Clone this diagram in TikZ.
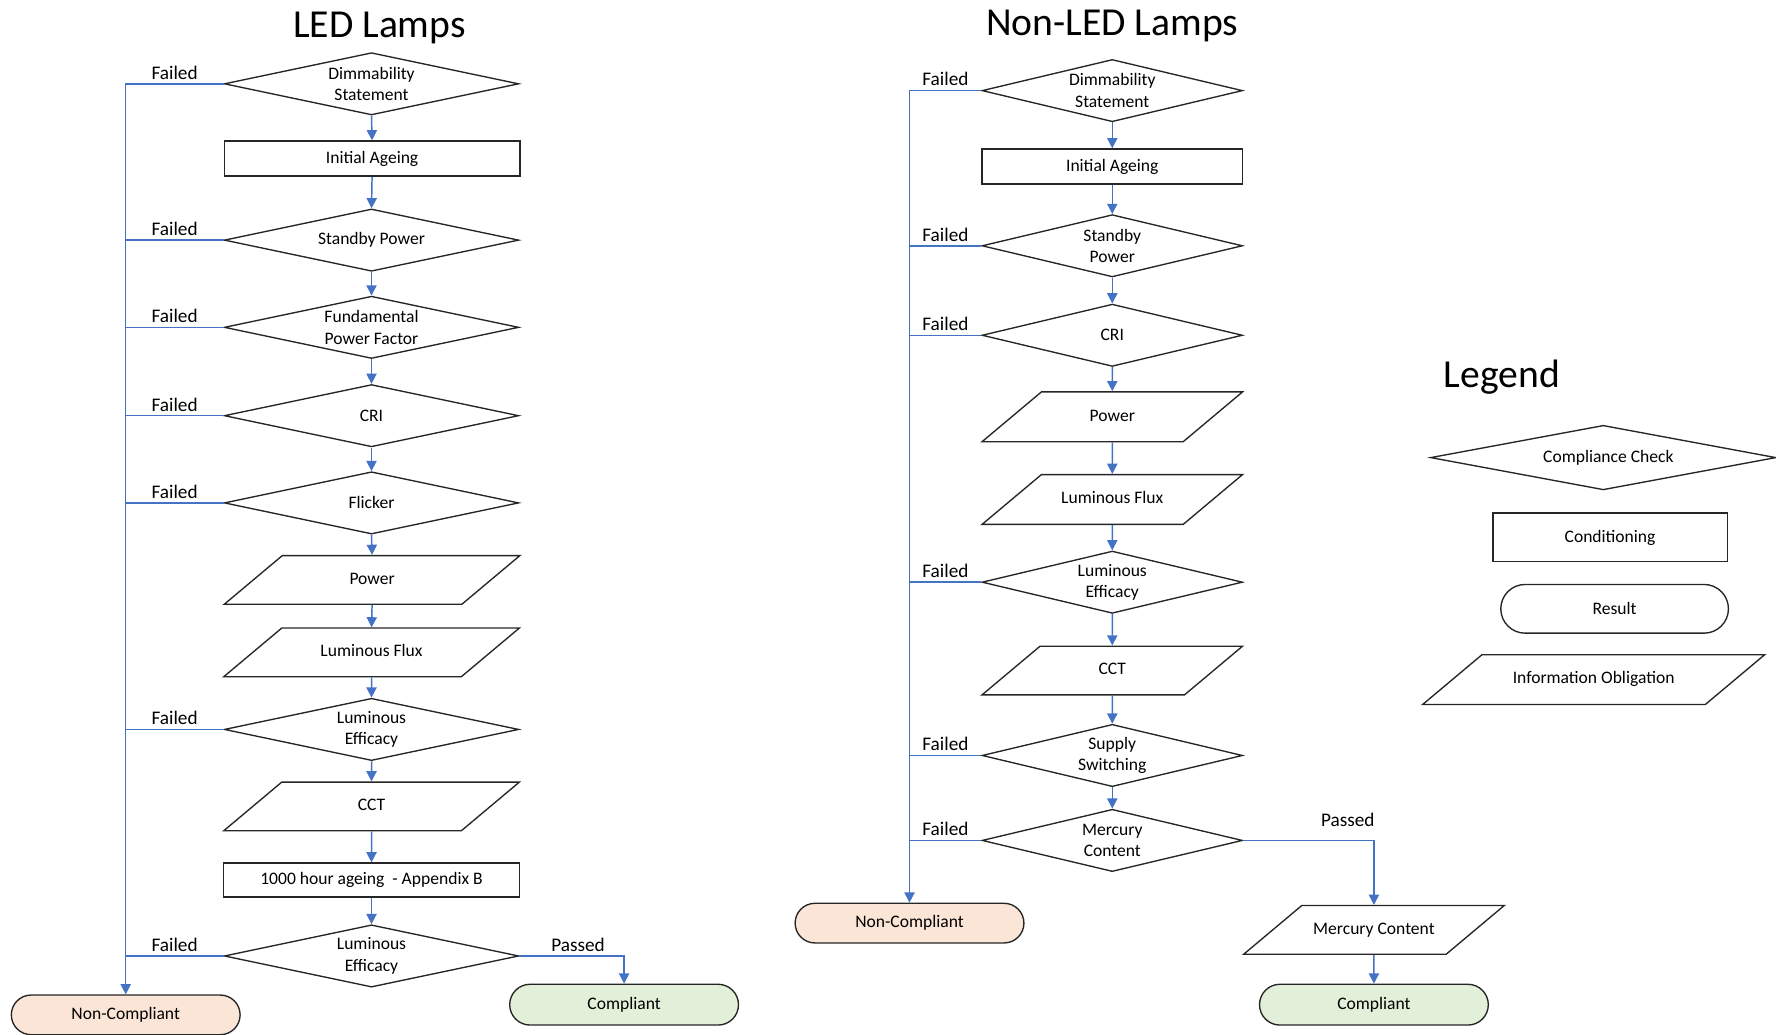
\documentclass[tikz,border=0pt]{standalone}
\usepackage{fontspec}
\setmainfont{Carlito}
\usetikzlibrary{arrows.meta,shapes.geometric,shapes.misc}

\definecolor{flowblue}{HTML}{4472C4}
\definecolor{ncfill}{HTML}{FBE5D6}
\definecolor{cfill}{HTML}{E2F0D9}

\begin{document}
\begin{tikzpicture}[x=1pt,y=-1pt,>={Triangle[length=9pt,width=9pt]},
        every node/.style={font=\fontsize{15.5}{19}\selectfont},
        check node/.style={diamond,aspect=4,draw=black!85,line width=1.2pt,inner sep=-14pt,align=center,minimum width=260,minimum height=55},
        cond node/.style={rectangle,draw=black!85,line width=1.2pt,inner sep=0pt,minimum width=261,minimum height=31},
        info node/.style={trapezium,trapezium left angle=40,trapezium right angle=140,trapezium stretches body=true,
          draw=black!85,line width=1.2pt,inner xsep=0pt,inner ysep=15.25pt,text height=10pt,text depth=2.5pt,
          minimum width=261,minimum height=0pt},
        result node/.style={rounded rectangle,draw=black!85,line width=1.2pt,inner sep=0pt,minimum width=202,minimum height=35},
        title node/.style={font=\fontsize{35}{40}\selectfont},
        fail label/.style={above,font=\fontsize{17}{20}\selectfont},
        flow/.style={->,draw=flowblue,line width=1.3pt},
        line/.style={draw=flowblue,line width=1.3pt}]
        \useasboundingbox (0,0) rectangle (1568,913);

        % titles
        \node[title node] (T1) at (335,25) {LED Lamps};
        \node[title node] (T2) at (982,23) {Non-LED Lamps};
        \node[title node] (T3) at (1326,333) {Legend};

        % LED nodes
        \node[check node] (L1) at (328,74) {Dimmability\\Statement};
        \node[cond node] (L2) at (328.5,140) {Initial Ageing};
        \node[check node] (L3) at (328,212) {Standby Power};
        \node[check node] (L4) at (328,289) {Fundamental\\Power Factor};
        \node[check node] (L5) at (328,367) {CRI};
        \node[check node] (L6) at (328,444) {Flicker};
        \node[info node] (L7) at (328.5,512) {Power};
        \node[info node] (L8) at (328,576) {Luminous Flux};
        \node[check node] (L9) at (328,644) {Luminous\\Efficacy};
        \node[info node] (L10) at (328,712) {CCT};
        \node[cond node, minimum height=30] (L11) at (328,777) {1000 hour ageing\ \ - Appendix B};
        \node[check node] (L12) at (328,844) {Luminous\\Efficacy};
        \node[result node, fill=ncfill] (L13) at (111,896) {Non-Compliant};
        \node[result node, fill=cfill, minimum height=36] (L14) at (551,887) {Compliant};

        % Non-LED nodes
        \node[check node, minimum width=230] (N1) at (982,80) {Dimmability\\Statement};
        \node[cond node, minimum width=230] (N2) at (982,147) {Initial Ageing};
        \node[check node, minimum width=230] (N3) at (982,217) {Standby\\Power};
        \node[check node, minimum width=230] (N4) at (982,296) {CRI};
        \node[info node, minimum width=230, inner ysep=15.75pt] (N5) at (982,368) {Power};
        \node[info node, minimum width=230, inner ysep=15.75pt] (N6) at (982,441) {Luminous Flux};
        \node[check node, minimum width=230] (N7) at (982,514) {Luminous\\Efficacy};
        \node[info node, minimum width=230] (N8) at (982,592) {CCT};
        \node[check node, minimum width=230] (N9) at (982,667) {Supply\\Switching};
        \node[check node, minimum width=230] (N10) at (982,742) {Mercury\\Content};
        \node[result node, fill=ncfill] (N11) at (803,815) {Non-Compliant};
        \node[info node, minimum width=230] (N12) at (1213,821) {Mercury Content};
        \node[result node, fill=cfill, minimum height=36] (N13) at (1213,887) {Compliant};

        % legend
        \node[check node, minimum width=305, minimum height=57] (G1) at (1415.5,404) {\hspace*{9pt}Compliance Check};
        \node[cond node, minimum width=207, minimum height=43] (G2) at (1421.5,474.5) {Conditioning};
        \node[result node, minimum width=201, minimum height=43] (G3) at (1425.5,537.5) {Result};
        \node[info node, minimum width=302, inner ysep=15.75pt] (G4) at (1407,600) {Information Obligation};

        % LED arrows
        \draw[flow] (L1.south) -- (L2.north);
        \draw[flow] (L2.south) -- (L3.north);
        \draw[flow] (L3.south) -- (L4.north);
        \draw[flow] (L4.south) -- (L5.north);
        \draw[flow] (L5.south) -- (L6.north);
        \draw[flow] (L6.south) -- (L7.north);
        \draw[flow] (L7.south) -- (L8.north);
        \draw[flow] (L8.south) -- (L9.north);
        \draw[flow] (L9.south) -- (L10.north);
        \draw[flow] (L10.south) -- (L11.north);
        \draw[flow] (L11.south) -- (L12.north);
        \draw[flow] (L12.east) -| node[pos=0.28, fail label] (P1) {Passed} (L14.north);
        \draw[flow] (L1.west) -- node[fail label] (F1) {Failed} (L1.west -| L13.north) -- (L13.north);
        \draw[line] (L3.west) -- node[fail label] (F2) {Failed} (L3.west -| L13.north);
        \draw[line] (L4.west) -- node[fail label] (F3) {Failed} (L4.west -| L13.north);
        \draw[line] (L5.west) -- node[fail label] (F4) {Failed} (L5.west -| L13.north);
        \draw[line] (L6.west) -- node[fail label] (F5) {Failed} (L6.west -| L13.north);
        \draw[line] (L9.west) -- node[fail label] (F6) {Failed} (L9.west -| L13.north);
        \draw[line] (L12.west) -- node[fail label] (F7) {Failed} (L12.west -| L13.north);

        % Non-LED arrows
        \draw[flow] (N1.south) -- (N2.north);
        \draw[flow] (N2.south) -- (N3.north);
        \draw[flow] (N3.south) -- (N4.north);
        \draw[flow] (N4.south) -- (N5.north);
        \draw[flow] (N5.south) -- (N6.north);
        \draw[flow] (N6.south) -- (N7.north);
        \draw[flow] (N7.south) -- (N8.north);
        \draw[flow] (N8.south) -- (N9.north);
        \draw[flow] (N9.south) -- (N10.north);
        \draw[flow] (N10.east) -| node[pos=0.4, fail label, above=8pt] (P2) {Passed} (N12.north);
        \draw[flow] (N12.south) -- (N13.north);
        \draw[flow] (N1.west) -- node[fail label] (E1) {Failed} (N1.west -| N11.north) -- (N11.north);
        \draw[line] (N3.west) -- node[fail label] (E2) {Failed} (N3.west -| N11.north);
        \draw[line] (N4.west) -- node[fail label] (E3) {Failed} (N4.west -| N11.north);
        \draw[line] (N7.west) -- node[fail label] (E4) {Failed} (N7.west -| N11.north);
        \draw[line] (N9.west) -- node[fail label] (E5) {Failed} (N9.west -| N11.north);
        \draw[line] (N10.west) -- node[fail label] (E6) {Failed} (N10.west -| N11.north);

      \end{tikzpicture}
\end{document}
